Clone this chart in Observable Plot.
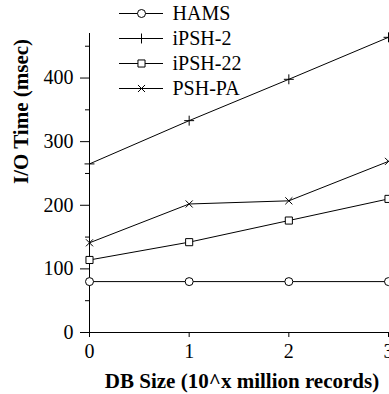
<!DOCTYPE html>
<html>
<head>
<meta charset="utf-8">
<script src="https://cdn.jsdelivr.net/npm/d3@7"></script>
<script src="https://cdn.jsdelivr.net/npm/@observablehq/plot@0.6"></script>
<style>
  html, body { margin: 0; padding: 0; background: #fff; }
  #wrap { position: relative; width: 389px; height: 394px; overflow: hidden; }
  #legend { position: absolute; left: 112px; top: 0; }
</style>
</head>
<body>
<div id="wrap"><div id="chart"></div><div id="legend"></div></div>
<script>
const dbSizes = [0, 1, 2, 3];
const seriesNames = ["HAMS", "iPSH-2", "iPSH-22", "PSH-PA"];
const seriesSymbols = ["circle", "plus", "square", "times"];
const hams = [80, 80, 80, 80];
const ipsh2 = [265, 333, 398, 464];
const ipsh22 = [114, 142, 176, 210];
const pshpa = [141, 202, 207, 269];
const yMajorTicks = [0, 100, 200, 300, 400];
const yMinorTicks = [50, 150, 250, 350, 450];
const xTicks = [0, 1, 2, 3];
const xLabel = "DB Size (10^x million records)";
const yLabel = "I/O Time (msec)";

const seriesValues = [hams, ipsh2, ipsh22, pshpa];
const rows = [];
seriesNames.forEach((name, i) => {
  dbSizes.forEach((x, j) => rows.push({series: name, x, y: seriesValues[i][j]}));
});
const isOpen = d => d.series === "HAMS" || d.series === "iPSH-22";
const isStroke = d => !isOpen(d);

const font = "Liberation Serif, Times New Roman, serif";
const symbolScale = {domain: seriesNames, range: seriesSymbols};

const chart = Plot.plot({
  width: 389,
  height: 394,
  marginLeft: 89,
  marginRight: 1,
  marginTop: 33,
  marginBottom: 62,
  style: {fontFamily: font, background: "white", overflow: "visible"},
  x: {domain: [0, 3]},
  y: {domain: [0, 470]},
  symbol: symbolScale,
  marks: [
    Plot.axisY({ticks: yMajorTicks, tickSize: 9, tickPadding: 7, fontSize: 20, label: null, stroke: "black", fill: "black"}),
    Plot.axisY({ticks: yMinorTicks, tickSize: 4, text: null, label: null, stroke: "black"}),
    Plot.axisX({ticks: xTicks, tickFormat: d3.format("d"), tickSize: 5, tickPadding: 6, fontSize: 20, label: null, stroke: "black", fill: "black"}),
    Plot.ruleX([0], {y1: 0, y2: 470, stroke: "black"}),
    Plot.ruleY([0], {x1: 0, x2: 3, stroke: "black"}),
    Plot.line(rows, {x: "x", y: "y", z: "series", stroke: "black", strokeWidth: 1}),
    Plot.dot(rows, {filter: isOpen, x: "x", y: "y", symbol: "series", r: 4, fill: "white", stroke: "black", strokeWidth: 1}),
    Plot.dot(rows, {filter: isStroke, x: "x", y: "y", symbol: "series", r: 3.3, fill: "white", stroke: "black", strokeWidth: 1}),
    Plot.text([xLabel], {text: d => d, frameAnchor: "bottom", dx: 3, dy: 49, fontSize: 21, fontWeight: "bold", fill: "black", lineAnchor: "middle"}),
    Plot.text([yLabel], {text: d => d, frameAnchor: "left", dx: -68, dy: 1, rotate: -90, fontSize: 21, fontWeight: "bold", fill: "black", lineAnchor: "middle"})
  ]
});
document.getElementById("chart").appendChild(chart);

// Legend: its own small plot, with a point scale over the series names
const legendRows = seriesNames.map(s => ({series: s}));
const legend = Plot.plot({
  width: 180,
  height: 100,
  margin: 0,
  style: {fontFamily: font, background: "transparent"},
  x: {domain: [0, 1], range: [7, 51], axis: null},
  y: {type: "point", domain: seriesNames, range: [13, 88], padding: 0, axis: null},
  symbol: symbolScale,
  marks: [
    Plot.ruleY(legendRows, {y: "series", x1: 0, x2: 1, stroke: "black", strokeWidth: 1}),
    Plot.dot(legendRows, {filter: isOpen, x: () => 0.5, y: "series", symbol: "series", r: 4, fill: "white", stroke: "black", strokeWidth: 1}),
    Plot.dot(legendRows, {filter: isStroke, x: () => 0.5, y: "series", symbol: "series", r: 3.3, fill: "white", stroke: "black", strokeWidth: 1}),
    Plot.text(legendRows, {x: () => 1, y: "series", text: "series", dx: 9, textAnchor: "start", fontSize: 20, fill: "black"})
  ]
});
document.getElementById("legend").appendChild(legend);
</script>
</body>
</html>
